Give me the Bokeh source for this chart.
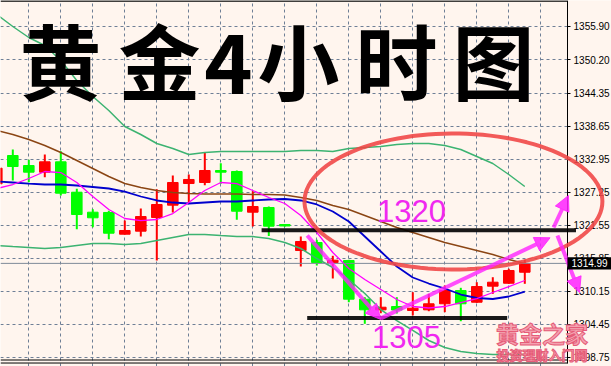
import numpy as np
from bokeh.plotting import figure
from bokeh.models import (FixedTicker, PrintfTickFormatter, Label, Arrow,
                          NormalHead, PolyAnnotation, Grid, ColumnDataSource,
                          BoxAnnotation)
from bokeh.embed import file_html
from bokeh.resources import INLINE

# ---------------- data ----------------
bars = list(range(-1, 33))
opens = [1328.73, 1333.62, 1331.89, 1330.74, 1332.53, 1327.28, 1323.83, 1323.78,
         1320.03, 1320.55, 1322.91, 1325.04, 1328.78, 1328.96, 1331.03, 1330.86,
         1323.83, 1324.64, 1321.70, 1317.21, 1318.59, 1315.14, 1315.49, 1308.80,
         1306.97, 1307.54, 1306.85, 1306.97, 1308.01, 1310.30, 1308.28, 1311.05,
         1311.56, 1313.46]
highs = [1332.20, 1334.66, 1332.88, 1333.79, 1334.36, 1327.87, 1324.35, 1324.07,
         1322.39, 1324.47, 1327.80, 1330.17, 1330.34, 1334.09, 1332.29, 1331.03,
         1327.45, 1324.81, 1321.79, 1319.63, 1319.06, 1316.30, 1315.61, 1309.15,
         1309.15, 1309.15, 1310.01, 1309.73, 1311.17, 1310.77, 1311.74, 1312.60,
         1314.05, 1315.61]
lows = [1328.00, 1329.30, 1329.01, 1329.87, 1326.71, 1320.89, 1321.24, 1319.16,
        1319.98, 1319.63, 1315.49, 1323.78, 1325.28, 1328.49, 1328.73, 1322.51,
        1321.36, 1319.72, 1321.36, 1314.45, 1314.62, 1312.38, 1308.28, 1304.55,
        1306.38, 1306.33, 1305.99, 1306.73, 1306.56, 1305.00, 1308.18, 1309.73,
        1311.46, 1311.46]
closes = [1331.43, 1331.72, 1330.74, 1332.53, 1327.11, 1323.43, 1322.86, 1320.20,
          1320.67, 1323.08, 1325.16, 1328.96, 1329.48, 1331.03, 1330.74, 1324.00,
          1324.81, 1321.41, 1321.45, 1318.77, 1315.14, 1315.54, 1308.80, 1306.97,
          1307.42, 1306.94, 1307.25, 1308.01, 1310.30, 1308.01, 1310.99, 1311.74,
          1313.76, 1314.99]

boll_upper = [1357.97, 1355.90, 1354.00, 1352.62, 1350.03, 1346.57, 1343.81, 1341.39,
              1338.63, 1337.25, 1335.69, 1334.83, 1333.79, 1334.14, 1334.31, 1334.31,
              1334.31, 1334.31, 1334.31, 1334.48, 1334.48, 1334.31, 1334.83, 1335.00,
              1335.17, 1335.52, 1335.69, 1335.69, 1335.35, 1334.66, 1333.45, 1332.24,
              1330.34, 1328.27]
boll_lower = [1318.08, 1317.90, 1317.73, 1317.56, 1317.73, 1318.08, 1318.42, 1318.42,
              1318.25, 1318.42, 1318.94, 1319.46, 1319.98, 1319.98, 1319.80, 1319.63,
              1319.63, 1319.29, 1318.59, 1317.56, 1315.83, 1314.28, 1312.20, 1309.79,
              1307.02, 1305.12, 1303.40, 1301.67, 1300.46, 1299.77, 1299.42, 1299.25,
              1299.25, 1299.25]
ma_slow = [1337.94, 1337.25, 1336.38, 1335.35, 1334.14, 1332.76, 1331.37, 1329.99,
           1328.78, 1328.09, 1327.58, 1327.23, 1327.06, 1326.97, 1326.97, 1326.97,
           1326.88, 1326.88, 1326.80, 1326.37, 1325.85, 1324.98, 1324.29, 1323.26,
           1322.22, 1321.18, 1320.32, 1319.46, 1318.59, 1317.90, 1317.21, 1316.52,
           1315.66, 1314.97]
ma_mid = [1329.13, 1328.96, 1328.78, 1328.61, 1328.61, 1328.44, 1328.18, 1327.92,
          1327.40, 1326.54, 1325.85, 1325.50, 1325.33, 1325.50, 1325.68, 1325.68,
          1325.85, 1326.02, 1326.11, 1325.85, 1325.16, 1323.95, 1322.22, 1319.63,
          1317.04, 1314.45, 1312.55, 1311.51, 1310.65, 1309.61, 1309.01, 1308.84,
          1309.27, 1310.13]
ma_fast = [1327.92, 1328.61, 1329.65, 1330.86, 1330.68, 1328.96, 1326.54, 1324.29,
           1322.74, 1322.39, 1322.57, 1323.60, 1325.50, 1327.58, 1328.96, 1328.78,
           1327.58, 1326.37, 1325.33, 1323.26, 1320.32, 1316.87, 1314.10, 1312.20,
           1310.48, 1308.75, 1307.54, 1307.28, 1307.54, 1308.23, 1308.92, 1309.96,
           1310.99, 1312.03]

price_ticks = [1355.90, 1350.20, 1344.35, 1338.65, 1332.95, 1327.25,
               1321.55, 1315.85, 1310.15, 1304.45, 1298.75]
grid_bars = list(range(1, 34, 2))
last_price = 1314.99
resistance = 1320.7
support = 1305.55
resistance_text = "1320"
support_text = "1305"
title_chars = ["黄", "金", "4", "小", "时", "图"]
title_pos = [2.98, 9.17, 13.48, 17.86, 23.98, 30.04]
title_y = [1350.37, 1350.37, 1349.45, 1350.37, 1350.37, 1350.37]
watermark_main = "黄金之家"
watermark_sub = "投资理财入门网"

# ---------------- figure ----------------
BG = "#FFF5EE"
GRID = "#6E7F96"
AXFONT = "Liberation Sans"
X0, XB, X1 = -0.769, 34.67, 37.419      # left edge, chart border, canvas edge
Y_TOP, Y_BOT = 1360.39, 1297.18

p = figure(width=611, height=366, output_backend="svg",
           toolbar_location=None, x_axis_location=None, y_axis_location="right",
           x_range=(X0, X1), y_range=(Y_BOT, Y_TOP),
           min_border_left=0, min_border_top=0, min_border_bottom=0,
           min_border_right=0)
p.background_fill_color = BG
p.border_fill_color = BG
p.outline_line_color = None

ax = p.yaxis[0]
ax.fixed_location = XB
ax.bounds = (1297.78, Y_TOP)
ax.ticker = FixedTicker(ticks=price_ticks)
ax.formatter = PrintfTickFormatter(format="%.2f")
ax.major_label_text_font = AXFONT
ax.major_label_text_font_size = "10px"
ax.major_label_text_color = "black"
ax.major_label_standoff = 3
ax.major_tick_out = 3
ax.major_tick_in = 0
ax.minor_tick_line_color = None
ax.axis_line_color = "black"
ax.major_tick_line_color = "black"

for g in p.grid:
    g.visible = False
p.add_layout(Grid(dimension=0, ticker=FixedTicker(ticks=grid_bars),
                  grid_line_color=GRID, grid_line_dash="3 3", grid_line_width=1))
p.add_layout(Grid(dimension=1, ticker=FixedTicker(ticks=price_ticks),
                  grid_line_color=GRID, grid_line_dash="3 3", grid_line_width=1))
# price-scale area to the right of the chart border
p.add_layout(BoxAnnotation(left=XB, fill_color=BG, fill_alpha=1, line_alpha=0,
                           level="underlay"))

def seg(x0, y0, x1, y1, color="black", width=1, alpha=1.0):
    p.add_layout(Arrow(end=None, x_start=x0, y_start=y0, x_end=x1, y_end=y1,
                       line_color=color, line_width=width, line_alpha=alpha))

# chart frame (top and double bottom line)
seg(X0, 1360.30, XB, 1360.30, width=1.5)
seg(X0, 1298.30, XB, 1298.30)
seg(X0, 1297.78, XB, 1297.78)
# current price line
seg(X0, last_price, XB, last_price, color="#7F8A99")

# ---------------- candles ----------------
colors = ["#FF0000" if c >= o else "#00FF00" for o, c in zip(opens, closes)]
src = ColumnDataSource(dict(
    x=bars, o=opens, h=highs, l=lows, c=closes,
    top=[max(o, c) for o, c in zip(opens, closes)],
    bot=[min(o, c) for o, c in zip(opens, closes)],
    color=colors))
p.segment(x0="x", y0="h", x1="x", y1="l", color="color", line_width=2, source=src)
p.vbar(x="x", top="top", bottom="bot", width=0.66, fill_color="color",
       line_color="color", line_width=1, source=src)

# ---------------- indicators ----------------
p.line(bars, boll_upper, line_color="#3CB371", line_width=1.5)
p.line(bars, boll_lower, line_color="#3CB371", line_width=1.5)
p.line(bars, ma_slow, line_color="#8B4513", line_width=1.5)
p.line(bars, ma_mid, line_color="#0000CD", line_width=1.8)
p.line(bars, ma_fast, line_color="#FF00FF", line_width=1.3)

# ---------------- annotations ----------------
seg(15.55, resistance, 35.2, resistance, width=4, alpha=0.9)
seg(18.4, support, 30.9, support, width=4, alpha=0.9)

t = np.linspace(0, 2 * np.pi, 120)
cx, cy, a, b = 27.54, 1325.68, 9.31, 11.74
p.add_layout(PolyAnnotation(xs=list(cx + a * np.cos(t)), ys=list(cy + b * np.sin(t)),
                            fill_alpha=0, line_color="#F04444", line_width=4,
                            line_alpha=0.88))

MAG = "#FF22FF"
def arrow(x0, y0, x1, y1):
    p.add_layout(Arrow(end=NormalHead(size=15, fill_color=MAG, line_color=MAG,
                                      fill_alpha=0.85, line_alpha=0.85),
                       x_start=x0, y_start=y0, x_end=x1, y_end=y1,
                       line_color=MAG, line_width=4, line_alpha=0.8))

arrow(18.4, 1319.8, 23.0, 1305.3)
arrow(23.0, 1305.5, 33.58, 1319.41)
arrow(33.8, 1321.19, 34.73, 1326.71)
arrow(34.04, 1319.8, 35.42, 1309.96)

p.add_layout(Label(x=24.92, y=1324.03, text=resistance_text, text_align="center",
                   text_baseline="middle", text_color="#F028F0", text_font=AXFONT,
                   text_font_size="31px"))
p.add_layout(Label(x=24.6, y=1302.36, text=support_text, text_align="center",
                   text_baseline="middle", text_color="#F028F0", text_font=AXFONT,
                   text_font_size="31px"))

for ch, xp, yp in zip(title_chars, title_pos, title_y):
    p.add_layout(Label(x=xp, y=yp, text=ch, text_align="center",
                       text_baseline="middle", text_color="black",
                       text_font="Noto Sans CJK SC", text_font_style="bold",
                       text_font_size="82px"))

p.add_layout(Label(x=33.08, y=1302.97, text=watermark_main, text_align="center",
                   text_baseline="middle", text_color="#F4A2B0",
                   text_outline_color="#E65C78",
                   text_font="Noto Sans CJK SC", text_font_style="bold",
                   text_font_size="23px"))
p.add_layout(Label(x=33.08, y=1299.25, text=watermark_sub, text_align="center",
                   text_baseline="middle", text_color="#F4A2B0",
                   text_outline_color="#E65C78",
                   text_font="Noto Sans CJK SC", text_font_style="bold",
                   text_font_size="13px"))

# current price box on the price scale
p.add_layout(BoxAnnotation(left=XB, right=X1, top=last_price + 1.04,
                           bottom=last_price - 1.04, fill_color="black",
                           fill_alpha=1, line_alpha=0))
p.add_layout(Label(x=XB, y=last_price, text="%.2f" % last_price, text_align="left",
                   text_baseline="middle", x_offset=4, text_color="white",
                   text_font=AXFONT, text_font_size="10px"))

open("out.html", "w").write(file_html(p, INLINE))
